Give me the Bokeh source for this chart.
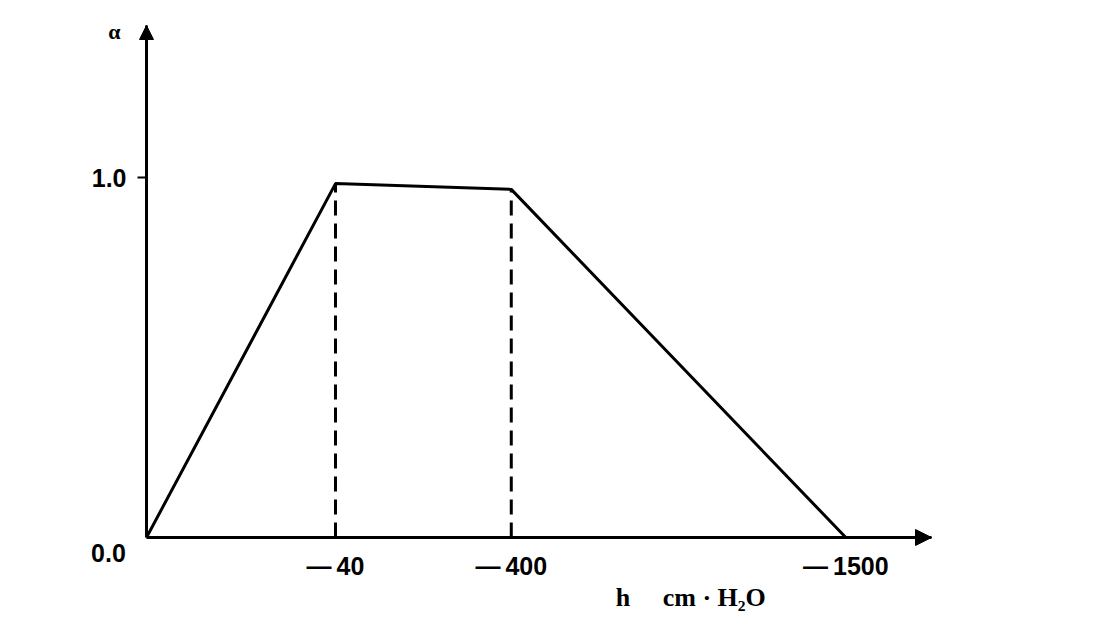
from bokeh.plotting import figure
from bokeh.models import Range1d, FixedTicker, Arrow, NormalHead, LinearAxis
from bokeh.core.properties import value
from bokeh.embed import file_html
from bokeh.resources import INLINE

# ---- data (schematic diagram) ----
h_labels = ["0", "\u2014\u200940", "\u2014\u2009400", "\u2014\u20091500"]   # suction h, cm H2O
h_pos = [0.0, 1.0, 1.93, 3.70]                          # schematic (non-linear) axis positions
alpha = [0.0, 0.983, 0.967, 0.0]                         # water-stress factor
y_ticks = [0.0, 1.0]
y_labels = ["0.0", "1.0"]
x_title = "h\u2003\u00a0cm\u00a0\u00b7\u00a0H\u2082O"
y_title = "\u03b1"

# ---- layout ----
W, H = 1080, 612
OX, OY = 146, 537          # origin position on the canvas (px)
SX, SY = 189.0, 360.0      # px per data unit
X_END = (931 - OX) / SX    # end of x-axis arrow
Y_END = (OY - 25) / SY     # end of y-axis arrow

p = figure(width=W, height=H, output_backend="svg", toolbar_location=None, title=None,
           x_range=Range1d(-OX / SX, (W - OX) / SX),
           y_range=Range1d(-(H - OY) / SY, OY / SY),
           x_axis_type=None, y_axis_type=None,
           min_border_left=0, min_border_right=0, min_border_top=0, min_border_bottom=0)
p.outline_line_color = None
p.xgrid.visible = False
p.ygrid.visible = False
p.background_fill_color = "white"
p.border_fill_color = "white"

FONT = "Liberation Sans"

xaxis = LinearAxis(fixed_location=0, bounds=(0, X_END),
                   ticker=FixedTicker(ticks=h_pos[1:]),
                   major_label_overrides=dict(zip(h_pos[1:], h_labels[1:])))
yaxis = LinearAxis(fixed_location=0, bounds=(0, Y_END),
                   ticker=FixedTicker(ticks=y_ticks[1:]),
                   major_label_overrides=dict(zip(y_ticks[1:], y_labels[1:])))
for ax in (xaxis, yaxis):
    ax.axis_line_width = 3
    ax.axis_line_color = "black"
    ax.minor_tick_line_color = None
    ax.major_label_text_font = FONT
    ax.major_label_text_font_style = "bold"
    ax.major_label_text_font_size = "25px"
    ax.major_label_text_color = "black"
xaxis.major_tick_line_color = None
xaxis.major_tick_out = 0
xaxis.major_tick_in = 0
xaxis.major_label_standoff = 14
yaxis.major_tick_out = 9
yaxis.major_tick_in = 0
yaxis.major_tick_line_width = 2
yaxis.major_tick_line_color = "black"
yaxis.major_label_standoff = 11
p.add_layout(xaxis, "below")
p.add_layout(yaxis, "left")

# arrow heads
p.add_layout(Arrow(end=NormalHead(size=16, fill_color="black", line_color="black"),
                   x_start=X_END - 0.1, y_start=0, x_end=X_END, y_end=0,
                   line_width=3, line_color="black"))
p.add_layout(Arrow(end=NormalHead(size=14, fill_color="black", line_color="black"),
                   x_start=0, y_start=Y_END - 0.1, x_end=0, y_end=Y_END,
                   line_width=3, line_color="black"))

# main curve and dashed verticals
p.line(h_pos, alpha, line_width=3, line_color="black")
for i in (1, 2):
    p.line([h_pos[i], h_pos[i]], [0, alpha[i]], line_width=3, line_color="black",
           line_dash="15 8")

# texts
p.text(x=[0], y=[0], text=[y_labels[0]], x_offset=-38, y_offset=15,
       text_font=value(FONT), text_font_style="bold", text_font_size="25px",
       text_align="center", text_baseline="middle", text_color="black")
p.text(x=[0], y=[Y_END], text=[y_title], x_offset=-32, y_offset=6,
       text_font=value("Liberation Serif"), text_font_style="bold", text_font_size="22px",
       text_align="center", text_baseline="middle", text_color="black")
p.text(x=[h_pos[3]], y=[0], text=[x_title], x_offset=-155, y_offset=60,
       text_font=value("Liberation Serif"), text_font_style="bold", text_font_size="26px",
       text_align="center", text_baseline="middle", text_color="black")

open("out.html", "w").write(file_html(p, INLINE))
